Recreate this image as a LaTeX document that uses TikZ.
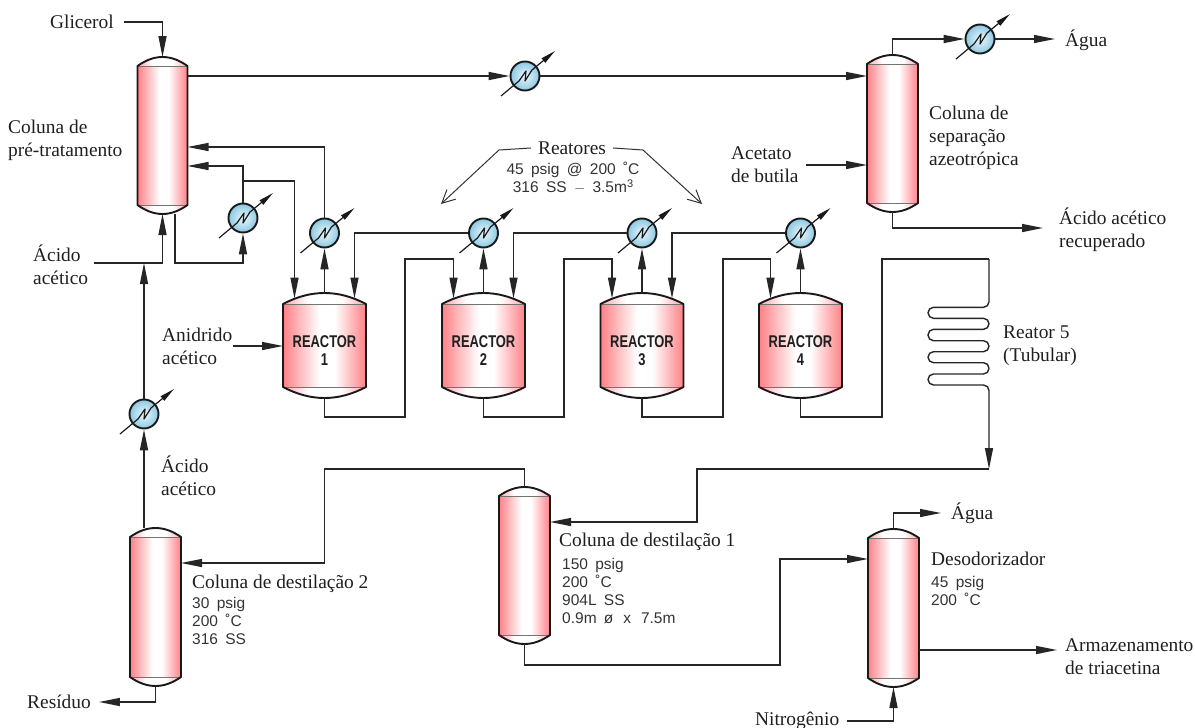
\documentclass[tikz,border=0pt]{standalone}
\usepackage{fontspec}
\setmainfont{Liberation Serif}
\newfontfamily\datafont[WordSpace=1.7]{Liberation Sans}
\newfontfamily\reactorfont[FakeStretch=0.76]{Liberation Sans Bold}
\usetikzlibrary{arrows.meta,calc}

\definecolor{vesselred}{RGB}{255,128,134}
\definecolor{hxblue}{RGB}{140,200,226}
\definecolor{hxpale}{RGB}{235,248,252}
\pgfdeclarehorizontalshading{bodyshade}{100bp}{color(0bp)=(vesselred); color(25bp)=(vesselred);
  color(47bp)=(white); color(56bp)=(white); color(75bp)=(vesselred); color(100bp)=(vesselred)}
\pgfdeclarehorizontalshading{capshade}{100bp}{color(0bp)=(vesselred!70!white); color(25bp)=(vesselred!70!white);
  color(40bp)=(white); color(60bp)=(white); color(75bp)=(vesselred!70!white); color(100bp)=(vesselred!70!white)}

% name, centre x, cap top, cap bottom, half width, cap height
\newcommand{\vessel}[6]{%
  \fill[shading=bodyshade] (#2-#5,#3+#6) rectangle (#2+#5,#4-#6);
  \fill[shading=capshade] (#2-#5,#3+#6) .. controls (#2-#5*0.33,#3-#6/3) and (#2+#5*0.33,#3-#6/3) .. (#2+#5,#3+#6) -- cycle;
  \fill[shading=capshade] (#2-#5,#4-#6) .. controls (#2-#5*0.33,#4+#6/3) and (#2+#5*0.33,#4+#6/3) .. (#2+#5,#4-#6) -- cycle;
  \draw[seam] (#2-#5,#3+#6) -- (#2+#5,#3+#6) (#2-#5,#4-#6) -- (#2+#5,#4-#6);
  \draw[shell] (#2-#5,#3+#6) .. controls (#2-#5*0.33,#3-#6/3) and (#2+#5*0.33,#3-#6/3) .. (#2+#5,#3+#6)
    -- (#2+#5,#4-#6) .. controls (#2+#5*0.33,#4+#6/3) and (#2-#5*0.33,#4+#6/3) .. (#2-#5,#4-#6) -- cycle;
  \node[vesselbox, minimum width=2*#5, minimum height=#4-#3] (#1) at (#2,{(#3+#4)/2}) {};
}
% name, x, y
\newcommand{\exchanger}[3]{%
  \node[hxbody] (#1) at (#2,#3) {};
  \draw[hxstem] ([shift={(-24,20)}]#1.center) -- ([shift={(-6,5)}]#1.center) -- ([shift={(1,-5)}]#1.center)
    -- ([shift={(0,5)}]#1.center) -- ([shift={(7,-6)}]#1.center) -- ([shift={(30,-25)}]#1.center);
}

\begin{document}
\begin{tikzpicture}[
  x = 1pt, y = -1pt,
  every node/.style = {font=\fontsize{19.4}{23}\selectfont, inner sep=0pt, align=left, text=black!88},
  data/.style = {font=\datafont\fontsize{15.5}{18}\selectfont, anchor=north west, text=black!80},
  reactorlabel/.style = {font=\reactorfont\fontsize{17}{18}\selectfont, align=center},
  vesselbox/.style = {draw=none, rectangle, outer sep=0pt},
  shell/.style = {draw=black!90, line width=1.9pt, line join=round},
  seam/.style = {draw=black!55, line width=0.7pt},
  hxbody/.style = {circle, draw=black!90, line width=1.9pt, minimum size=29pt, outer sep=0.9pt,
    inner color=hxpale, outer color=hxblue},
  hxstem/.style = {draw=black!90, line width=1.2pt, line join=round, -{Triangle[length=15pt,width=5.5pt]}},
  pipe/.style = {draw=black!85, line width=1.4pt},
  flow/.style = {pipe, -{Triangle[length=21pt,width=8pt]}},
  pointer/.style = {draw=black!80, line width=1pt, -{Straight Barb[length=13pt,width=13pt]}},
]
\useasboundingbox (0,0) rectangle (1195,728);

\vessel{pretrat}{162.5}{57}{214}{25}{9}
\vessel{azeo}{892.5}{55}{212}{25.5}{9}
\vessel{dest1}{524.5}{487}{644}{25.5}{9}
\vessel{dest2}{155.5}{528}{686}{25.5}{9}
\vessel{deso}{893.5}{529}{687}{25.5}{9}

\foreach \n/\cx in {1/324.5, 2/483.5, 3/642, 4/800.5} {
  \vessel{rct\n}{\cx}{293}{398}{41.5}{11}
  \node[reactorlabel] (lab\n) at ([shift={(0,5.5)}]rct\n.center) {REACTOR\\\n};
}

\exchanger{hxtop}{525}{76}
\exchanger{hxwater}{980}{39}
\exchanger{hxpre}{243}{218}
\exchanger{hx1}{324.5}{233}
\exchanger{hx2}{483.5}{233}
\exchanger{hx3}{642}{233}
\exchanger{hx4}{800.5}{233}
\exchanger{hxacid}{144}{414}

\node[anchor=west] (glicerol) at (50,22) {Glicerol};
\node[anchor=west] (pretext) at (8,140) {Coluna de\\pré-tratamento};
\node[anchor=west] (acidtop) at (33,265) {Ácido\\acético};
\node[anchor=west] (anidrido) at (162,346) {Anidrido\\acético};
\node[anchor=west] (acidlow) at (161,476) {Ácido\\acético};
\node[anchor=west] (residuo) at (27,702) {Resíduo};
\node[anchor=west] (azeotext) at (929,138) {Coluna de\\separação\\azeotrópica};
\node[anchor=west] (acetato) at (731,165) {Acetato\\de butila};
\node[anchor=west] (agua1) at (1065,40) {Água};
\node[anchor=west] (recup) at (1059,230) {Ácido acético\\recuperado};
\node[anchor=west] (tubular) at (1003,346) {Reator 5\\(Tubular)};
\node (reatores) at (572,148) {Reatores};
\node[anchor=west] (dest1text) at (559,542) {Coluna de destilação 1};
\node[anchor=west] (dest2text) at (192,584) {Coluna de destilação 2};
\node[anchor=west] (desotext) at (931,559) {Desodorizador};
\node[anchor=west] (agua2) at (951,513) {Água};
\node[anchor=west] (armaz) at (1065,657) {Armazenamento\\de triacetina};
\node[anchor=west] (nitro) at (755,721) {Nitrogênio};

\node[data, align=center, anchor=north] (reatdata) at (573,162) {45 psig @ 200 ˚C\\316 SS $-$ 3.5m\raisebox{5pt}{\fontsize{11}{11}\selectfont 3}};
\node[data] (dest1data) at (562,558) {150 psig\\200 ˚C\\904L SS\\0.9m ø\, x\, 7.5m};
\node[data] (dest2data) at (192,597) {30 psig\\200 ˚C\\316 SS};
\node[data] (desodata) at (931,576) {45 psig\\200 ˚C};

\coordinate (acidjoin) at (144,263);
\coordinate (coilin) at (989,259);
\coordinate (coilout) at (989,469);

% column one: feeds and overhead
\draw[flow] ([xshift=10pt]glicerol.east) -| (pretrat.north);
\draw[flow] ([xshift=6pt]acidtop.east |- acidjoin) -| (pretrat.south);
\draw[flow] (pretrat.east |- hxtop) -- (hxtop.west);
\draw[flow] (hxtop.east) -- (azeo.west |- hxtop);
\draw[flow] ([xshift=12.5pt]pretrat.south) |- (243,263) -- (hxpre.south);
\draw[flow] (hxpre.north) |- (pretrat.east |- 0,166);
\draw[flow] (243,181) -| ([shift={(-30,5.5)}]rct1.north);
\draw[flow] (hx1.north) |- (pretrat.east |- 0,147);

% azeotropic column
\draw[flow] ([xshift=7pt]acetato.east) -- (azeo.west |- acetato);
\draw[flow] (azeo.north) |- (hxwater.west);
\draw[flow] (hxwater.east) -- ([xshift=-10pt]agua1.west |- hxwater);
\draw[flow] (azeo.south) |- (1043,228);

% reactors train
\draw[flow] ([xshift=1pt]anidrido.east) -- (rct1.west |- anidrido);
\foreach \n in {1,2,3,4}
  \draw[flow] (rct\n.north) -- (hx\n.south);
\foreach \hxname/\rname in {hx2/rct1, hx3/rct2, hx4/rct3}
  \draw[flow] (\hxname.west) -| ([shift={(30,5.5)}]\rname.north);
\foreach \from/\to/\riser in {rct1/rct2/405, rct2/rct3/564, rct3/rct4/723}
  \draw[flow] (\from.south) |- (\riser,417) -- (\riser,259) -| ([shift={(-30,5.5)}]\to.north);

% tubular reactor
\draw[pipe] (rct4.south) |- (882,417) |- (coilin);
\draw[flow, rounded corners=5.5pt] (coilin) -- (989,307.3) -- (928,307.3)
  -- (928,318.3) -- (989,318.3) -- (989,329.3) -- (928,329.3) -- (928,340.7) -- (989,340.7)
  -- (989,351.7) -- (928,351.7) -- (928,362.7) -- (989,362.7) -- (989,374) -- (928,374)
  -- (928,385) -- (989,385) -- (coilout);
\draw[flow] (coilout) -| (697,522) -- (dest1.east |- 0,522);

% distillation and finishing
\draw[flow] (dest1.north) |- (324.5,469) |- (dest2.east |- 0,563);
\draw[flow] (dest1.south) |- (780,665) |- (deso.west |- 0,559);
\draw[flow] (deso.north) |- ([xshift=-10pt]agua2.west);
\draw[flow] (deso.east |- 0,650) -- (1057,650);
\draw[flow] ([xshift=8pt]nitro.east) -| (deso.south);
\draw[flow] (dest2.north -| hxacid) -- (hxacid.south);
\draw[flow] (hxacid.north) -- (acidjoin);
\draw[flow] (dest2.south) |- ([xshift=8pt]residuo.east);

% pointers to the reactors
\draw[pointer] ([xshift=-7pt]reatores.west) -- (499,150) -- (441,204);
\draw[pointer] ([xshift=7pt]reatores.east) -- (643,150) -- (702,204);
\end{tikzpicture}
\end{document}
